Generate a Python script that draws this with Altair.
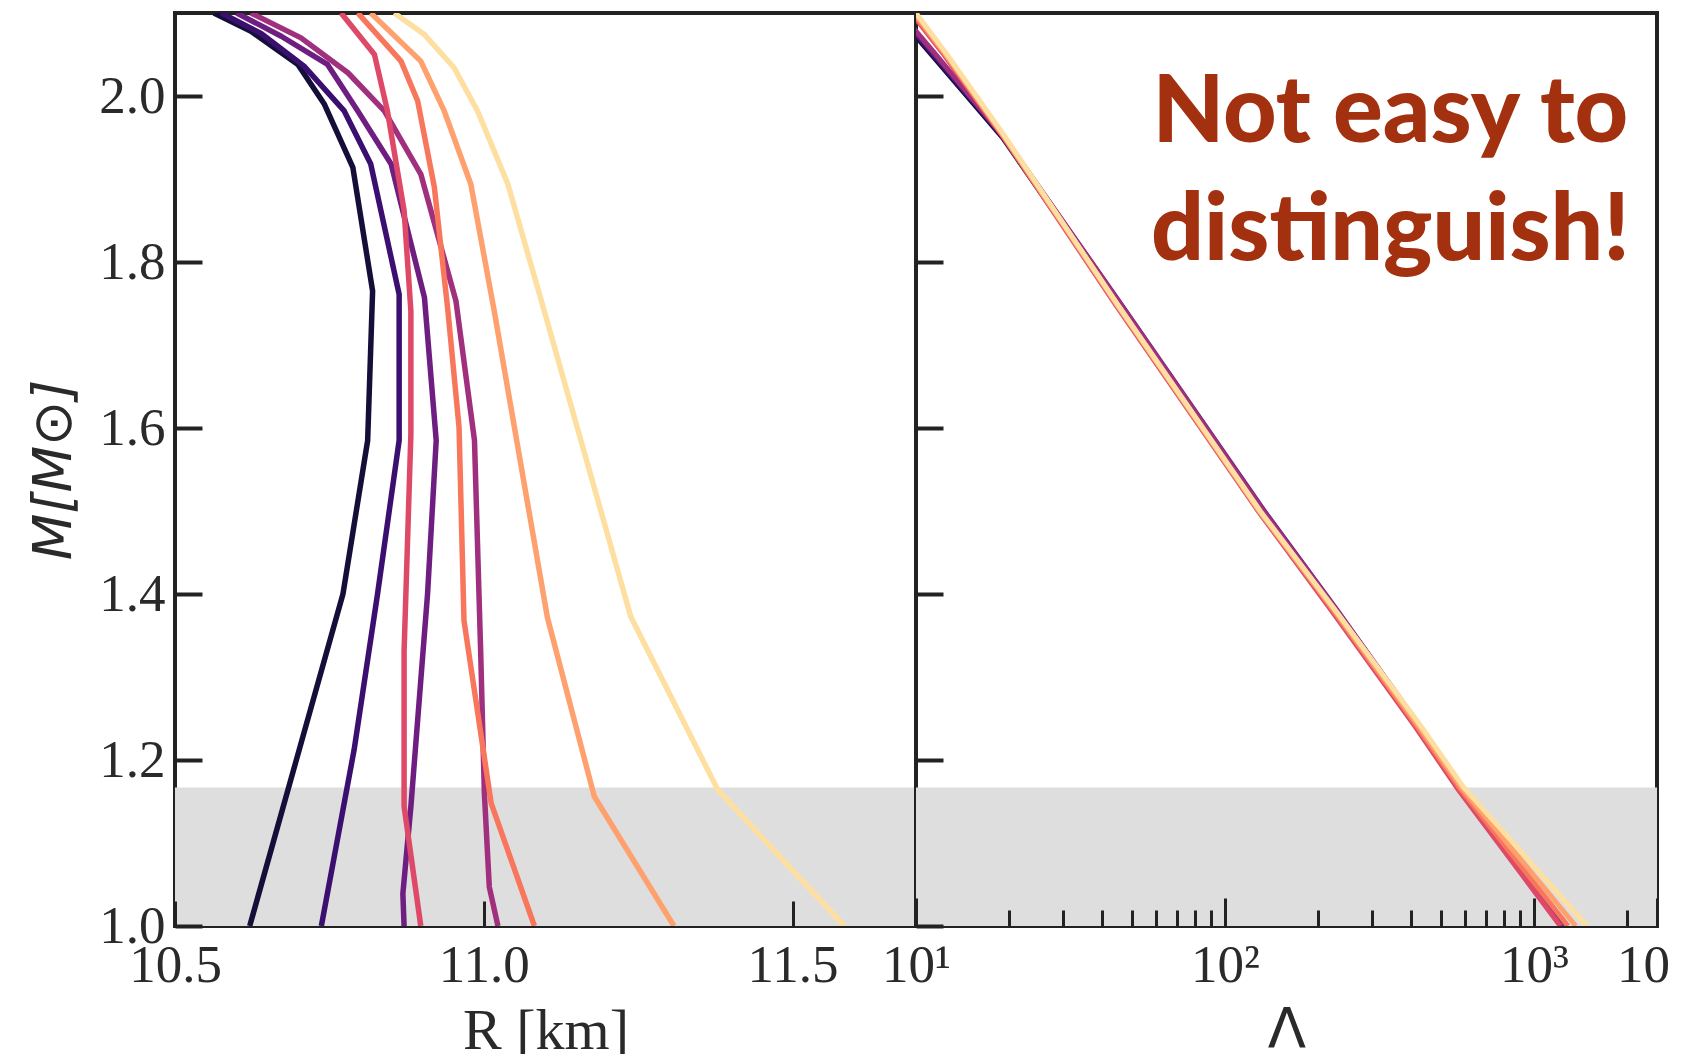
import altair as alt
import pandas as pd

# ---------------- data ----------------
curve_names = ["eos1", "eos2", "eos3", "eos4", "eos5", "eos6", "eos7", "eos8"]
curve_colors = ["#150e38", "#3b0f70", "#6e1e81", "#a0307e", "#de4968", "#f8765c", "#fea16e", "#fde0a1"]

# Mass-radius curves (R in km, M in solar masses)
R_eos1 = [10.563, 10.623, 10.699, 10.742, 10.788, 10.820, 10.812, 10.772, 10.621]
M_eos1 = [2.10, 2.078, 2.038, 1.990, 1.914, 1.765, 1.585, 1.400, 1.00]
R_eos2 = [10.575, 10.640, 10.709, 10.774, 10.817, 10.863, 10.863, 10.828, 10.790, 10.737]
M_eos2 = [2.10, 2.075, 2.036, 1.982, 1.918, 1.761, 1.585, 1.400, 1.212, 1.00]
R_eos3 = [10.600, 10.672, 10.747, 10.796, 10.850, 10.904, 10.923, 10.909, 10.882, 10.869, 10.871]
M_eos3 = [2.10, 2.072, 2.038, 1.982, 1.918, 1.757, 1.585, 1.400, 1.144, 1.039, 1.00]
R_eos4 = [10.623, 10.704, 10.780, 10.839, 10.898, 10.955, 10.985, 10.995, 11.001, 11.009, 11.023]
M_eos4 = [2.10, 2.070, 2.028, 1.982, 1.906, 1.753, 1.585, 1.331, 1.160, 1.047, 1.00]
R_eos5 = [10.769, 10.823, 10.844, 10.871, 10.882, 10.882, 10.871, 10.871, 10.898]
M_eos5 = [2.10, 2.050, 1.982, 1.862, 1.741, 1.593, 1.331, 1.144, 1.00]
R_eos6 = [10.796, 10.866, 10.893, 10.920, 10.942, 10.960, 10.968, 11.012, 11.082]
M_eos6 = [2.10, 2.042, 1.994, 1.890, 1.741, 1.601, 1.368, 1.148, 1.00]
R_eos7 = [10.817, 10.898, 10.936, 10.979, 11.017, 11.103, 11.179, 11.308]
M_eos7 = [2.10, 2.042, 1.982, 1.894, 1.741, 1.372, 1.156, 1.00]
R_eos8 = [10.855, 10.904, 10.952, 10.990, 11.039, 11.098, 11.238, 11.379, 11.584]
M_eos8 = [2.10, 2.074, 2.034, 1.982, 1.894, 1.741, 1.373, 1.164, 1.00]

# Mass - tidal deformability curves (Lambda at each mass of M_grid)
M_grid = [2.10, 2.05, 1.95, 1.75, 1.50, 1.38, 1.24, 1.167, 1.00]
L_eos1 = [8.61, 11.2, 19.05, 44.9, 131, 227, 421, 570, 1236]
L_eos2 = [8.71, 11.35, 19.2, 45.2, 132, 228, 423, 573, 1245]
L_eos3 = [8.81, 11.5, 19.3, 45.9, 134, 231, 427, 575, 1253]
L_eos4 = [8.91, 11.6, 19.3, 45.7, 133, 230, 429, 578, 1259]
L_eos5 = [9.66, 12.3, 19.2, 44.0, 128, 221, 413, 562, 1216]
L_eos6 = [9.77, 12.4, 19.3, 44.3, 129, 224, 419, 572, 1288]
L_eos7 = [9.89, 12.5, 19.4, 44.5, 129, 226, 425, 581, 1365]
L_eos8 = [10.0, 12.6, 19.5, 44.7, 130, 228, 432, 592, 1486]

band_top = 1.167
y_ticks = [1.0, 1.2, 1.4, 1.6, 1.8, 2.0]
r_ticks = [10.5, 11.0, 11.5]
lam_major = [10, 100, 1000, 2500]
lam_minor = [20, 30, 40, 50, 60, 70, 80, 90, 200, 300, 400, 500, 600, 700, 800, 900, 2000]
note_lines = ["Not easy to", "distinguish!"]

# ---------------- tables ----------------
R_curves = [R_eos1, R_eos2, R_eos3, R_eos4, R_eos5, R_eos6, R_eos7, R_eos8]
M_curves = [M_eos1, M_eos2, M_eos3, M_eos4, M_eos5, M_eos6, M_eos7, M_eos8]
L_curves = [L_eos1, L_eos2, L_eos3, L_eos4, L_eos5, L_eos6, L_eos7, L_eos8]

rows = []
for name, Rs, Ms in zip(curve_names, R_curves, M_curves):
    for i, (r, m) in enumerate(zip(Rs, Ms)):
        rows.append({"curve": name, "idx": i, "R": r, "M": m})
df_mr = pd.DataFrame(rows)

rows = []
for name, Ls in zip(curve_names, L_curves):
    for i, (l, m) in enumerate(zip(Ls, M_grid)):
        rows.append({"curve": name, "idx": i, "L": l, "M": m})
df_ml = pd.DataFrame(rows)

band_df = pd.DataFrame({"m_lo": [1.0], "m_hi": [band_top]})
note_df = pd.DataFrame({"L": [343.0], "M": [1.944]})

# ---------------- styling ----------------
W, H = 741, 913
LABEL_FONT = "Liberation Serif"
INK = "#222222"
LABEL_INK = "#2a2a2a"

color_enc = alt.Color("curve:N", scale=alt.Scale(domain=curve_names, range=curve_colors), legend=None)
yscale = alt.Scale(domain=[1.0, 2.1], nice=False, zero=False)
rscale = alt.Scale(domain=[10.5, 11.7], nice=False, zero=False)
lscale = alt.Scale(type="log", domain=[10, 2500], nice=False)

common = dict(domain=False, grid=False, tickColor=INK, labelColor=LABEL_INK, zindex=1,
              labelFont=LABEL_FONT, labelFontSize=53, labelFlush=False, labelOverlap=False)

yaxis_left = alt.Axis(values=y_ticks, format=".1f", tickSize=27, offset=-27, tickWidth=4,
                      labelPadding=10, title="M[M⊙]", titleFont="DejaVu Sans",
                      titleFontStyle="italic", titleFontWeight="normal", titleFontSize=54,
                      titleColor=LABEL_INK, titlePadding=17, orient="left", **common)
xaxis_left = alt.Axis(values=r_ticks, format=".1f", tickSize=25, offset=-25, tickWidth=3,
                      labelPadding=13, title="R [km]", titleFont=LABEL_FONT,
                      titleFontWeight="normal", titleFontSize=58, titleColor=LABEL_INK,
                      titlePadding=10, orient="bottom", **common)

yaxis_right = alt.Axis(values=y_ticks, labels=False, tickSize=27, offset=-27, tickWidth=4,
                       title=None, domain=False, grid=False, tickColor=INK, orient="left", zindex=1)
xaxis_right = alt.Axis(values=lam_major, tickSize=28, offset=-28, tickWidth=3, orient="bottom",
                       labelExpr="datum.value == 10 ? '10¹' : datum.value == 100 ? '10²' : datum.value == 1000 ? '10³' : '10'",
                       labelOffset={"condition": {"test": "datum.value > 2000", "value": -14}, "value": 0},
                       labelPadding=13, title="Λ", titleFont="DejaVu Sans", titleFontWeight="normal",
                       titleFontSize=56, titleColor=LABEL_INK, titlePadding=10, **common)
xaxis_minor = alt.Axis(values=lam_minor, labels=False, tickSize=16, offset=-16, tickWidth=3,
                       title=None, domain=False, grid=False, tickColor=INK, orient="bottom", zindex=1)

# ---------------- left panel ----------------
band_l = alt.Chart(band_df).mark_rect(color="#dedede").encode(
    x=alt.value(0), x2=alt.value(W),
    y=alt.Y("m_lo:Q", scale=yscale, axis=yaxis_left), y2=alt.Y2("m_hi:Q"))

lines_l = alt.Chart(df_mr).mark_line(strokeWidth=5.5, strokeJoin="round", clip=True).encode(
    x=alt.X("R:Q", scale=rscale, axis=xaxis_left),
    y=alt.Y("M:Q", scale=yscale, axis=yaxis_left),
    color=color_enc,
    order=alt.Order("idx:Q"))

left = alt.layer(band_l, lines_l).properties(width=W, height=H)

# ---------------- right panel ----------------
band_r = alt.Chart(band_df).mark_rect(color="#dedede").encode(
    x=alt.value(0), x2=alt.value(W),
    y=alt.Y("m_lo:Q", scale=yscale, axis=yaxis_right), y2=alt.Y2("m_hi:Q"))

lines_r = alt.Chart(df_ml).mark_line(strokeWidth=5, strokeJoin="round", clip=True).encode(
    x=alt.X("L:Q", scale=lscale, axis=xaxis_right),
    y=alt.Y("M:Q", scale=yscale, axis=yaxis_right),
    color=color_enc,
    order=alt.Order("idx:Q"))

note = alt.Chart(note_df).mark_text(
    font="Lato, sans-serif",
    fontWeight=900, fontSize=93, color="#a3300f", align="center",
    baseline="alphabetic", lineHeight=118).encode(
    x=alt.X("L:Q", scale=lscale, axis=xaxis_minor),
    y=alt.Y("M:Q", scale=yscale, axis=yaxis_right),
    text=alt.value(note_lines))

right = alt.layer(band_r, lines_r, note).resolve_axis(x="independent").properties(width=W, height=H)

chart = alt.hconcat(left, right, spacing=0, bounds="flush").properties(
    padding={"left": 25, "top": 11, "right": 0, "bottom": -7}
).configure_view(stroke=INK, strokeWidth=4)

chart.save("out.html", embed_options={"renderer": "svg", "actions": False})
